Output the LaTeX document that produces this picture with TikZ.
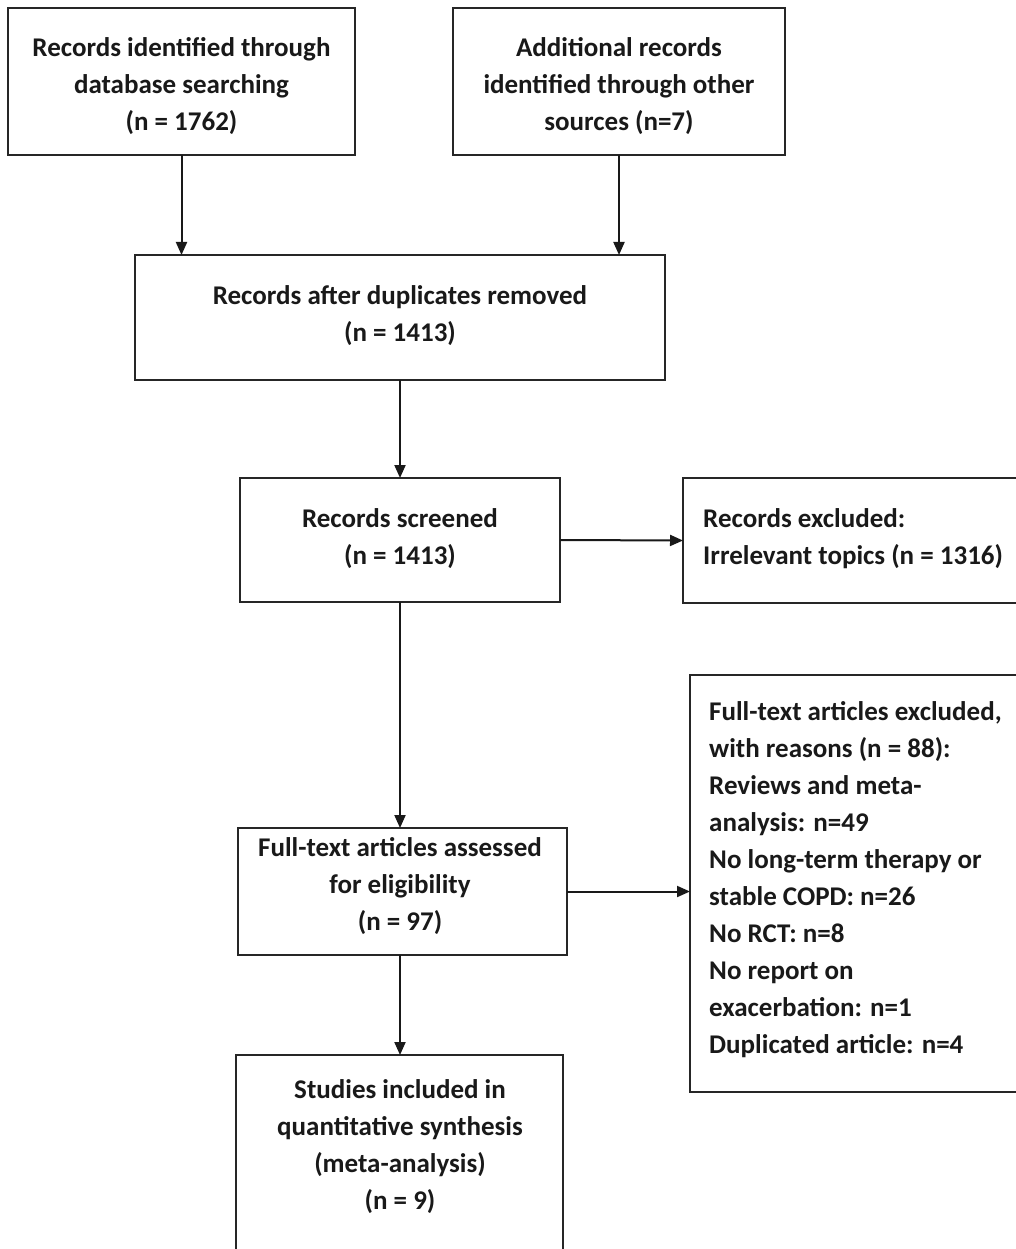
\documentclass[tikz,border=0pt]{standalone}
\usepackage{fontspec}
\setmainfont{Carlito}
\usetikzlibrary{arrows.meta,calc}
\begin{document}
\begin{tikzpicture}[x=1pt,y=-1pt,
  box/.style={draw=black!85,line width=2pt,inner sep=0pt,outer sep=0pt},
  txt/.style={font=\fontsize{27}{37}\selectfont\bfseries,align=center,inner sep=0pt,text=black!90},
  ltxt/.style={font=\fontsize{27}{37}\selectfont\bfseries,align=left,inner sep=0pt,text=black!90},
  arr/.style={line width=2pt,draw=black!90,-{Triangle[length=13pt,width=11pt]}}]
\useasboundingbox (0,0) rectangle (1016,1249);
\clip (0,0) rectangle (1016,1249);
\fill[white] (0,0) rectangle (1016,1249);
% boxes
\node[box,minimum width=347pt,minimum height=147pt] (b1) at (181.5,81.5) {};
\node[box,minimum width=332pt,minimum height=147pt] (b2) at (619,81.5) {};
\node[box,minimum width=530pt,minimum height=125pt] (b3) at (400,317.5) {};
\node[box,minimum width=320pt,minimum height=124pt] (b4) at (400,540) {};
\node[box,minimum width=360pt,minimum height=125pt] (b5) at (863,540.5) {};
\node[box,minimum width=329pt,minimum height=127pt] (b6) at (402.5,891.5) {};
\node[box,minimum width=350pt,minimum height=417pt] (b7) at (865,883.5) {};
\node[box,minimum width=327pt,minimum height=215pt] (b8) at (399.5,1162.5) {};
% texts
\node[txt] (t1) at (181.5,86) {Records identified through\\database searching\\(n = 1762)};
\node[txt] (t2) at (619,86) {Additional records\\identified through other\\sources (n=7)};
\node[txt] (t3) at (400,316) {Records after duplicates removed\\(n = 1413)};
\node[txt] (t4) at (400,539) {Records screened\\(n = 1413)};
\node[ltxt,anchor=west] (t5) at (703,539) {Records excluded:\\Irrelevant topics (n = 1316)};
\node[txt] (t6) at (400,886) {Full-text articles assessed\\for eligibility\\(n = 97)};
\node[ltxt,anchor=north west] (t7) at (709,701) {Full-text articles excluded,\\with reasons (n = 88):\\Reviews and meta-\\analysis: n=49\\No long-term therapy or\\stable COPD: n=26\\No RCT: n=8\\No report on\\exacerbation: n=1\\Duplicated article: n=4};
\node[txt,anchor=north] (t8) at (400,1079) {Studies included in\\quantitative synthesis\\(meta-analysis)\\(n = 9)};
% connectors
\draw[arr] (b1.south) -- (b3.north -| b1.south);
\draw[arr] (b2.south) -- (b3.north -| b2.south);
\draw[arr] (b3.south) -- (b4.north);
\draw[arr] (b4.east) -- (b5.west);
\draw[arr] (b4.south) -- (b6.north -| b4.south);
\draw[arr] (b6.east) -- (b7.west |- b6.east);
\draw[arr] (b6.south -| b4.south) -- (b8.north -| b4.south);
\end{tikzpicture}
\end{document}
